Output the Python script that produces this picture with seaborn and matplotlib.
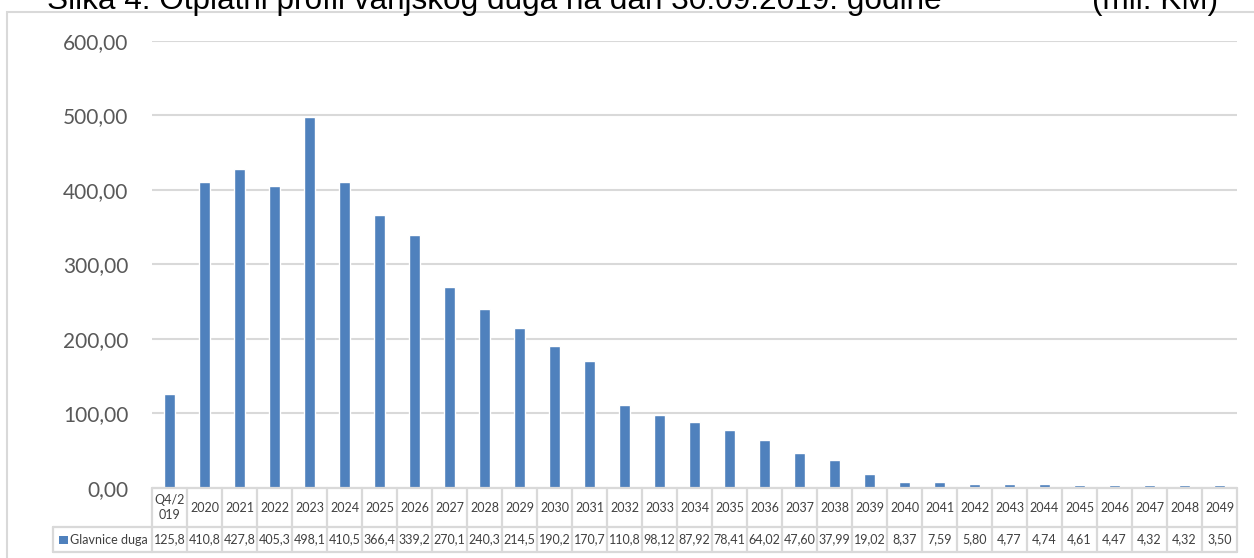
import matplotlib
matplotlib.use("Agg")
import matplotlib.pyplot as plt
import numpy as np
import pandas as pd
import seaborn as sns
from matplotlib import transforms
from matplotlib.lines import Line2D
from matplotlib.patches import Rectangle

# ---------------- data ----------------
categories = ["Q4/2\n019", "2020", "2021", "2022", "2023", "2024", "2025", "2026",
              "2027", "2028", "2029", "2030", "2031", "2032", "2033", "2034",
              "2035", "2036", "2037", "2038", "2039", "2040", "2041", "2042",
              "2043", "2044", "2045", "2046", "2047", "2048", "2049"]
values = [125.8, 410.8, 427.8, 405.3, 498.1, 410.5, 366.4, 339.2, 270.1, 240.3,
          214.5, 190.2, 170.7, 110.8, 98.12, 87.92, 78.41, 64.02, 47.60, 37.99,
          19.02, 8.37, 7.59, 5.80, 4.77, 4.74, 4.61, 4.47, 4.32, 4.32, 3.50]
value_labels = ["125,8", "410,8", "427,8", "405,3", "498,1", "410,5", "366,4", "339,2",
                "270,1", "240,3", "214,5", "190,2", "170,7", "110,8", "98,12", "87,92",
                "78,41", "64,02", "47,60", "37,99", "19,02", "8,37", "7,59", "5,80",
                "4,77", "4,74", "4,61", "4,47", "4,32", "4,32", "3,50"]
series_name = "Glavnice duga"
y_ticks = [0, 100, 200, 300, 400, 500, 600]
y_tick_labels = ["0,00", "100,00", "200,00", "300,00", "400,00", "500,00", "600,00"]
title_text = "Slika 4. Otplatni profil vanjskog duga na dan 30.09.2019. godine"
unit_text = "(mil. KM)"

# ---------------- style ----------------
BAR = "#4F81BD"
GRID = "#D9D9D9"
TXT = "#595959"
TBL_TXT = "#404040"
W, H = 1254, 558

sns.set_theme(style="white")
plt.rcParams["font.family"] = ["Lato", "DejaVu Sans"]

fig = plt.figure(figsize=(W / 100, H / 100), dpi=100)
fig.patch.set_facecolor("white")


def fx(p):
    return p / W


def fy(p):
    return (H - p) / H


left_px, right_px = 152, 1237
top_px, base_px = 40.7, 488
ax = fig.add_axes([fx(left_px), fy(base_px), fx(right_px) - fx(left_px), fy(top_px) - fy(base_px)])

df = pd.DataFrame({"cat": categories, "val": values})
sns.barplot(data=df, x="cat", y="val", order=categories, color=BAR, saturation=1,
            width=0.34, ax=ax, zorder=3)

n = len(categories)
ax.set_xlim(-0.5, n - 0.5)
ax.set_ylim(0, 600)
ax.set_yticks(y_ticks)
ax.set_yticklabels(y_tick_labels, fontsize=15, color=TXT)
ax.tick_params(axis="y", length=0, pad=17)
ax.set_xticks([])
ax.set_xlabel("")
ax.set_ylabel("")
for s in ax.spines.values():
    s.set_visible(False)
ax.yaxis.grid(True, color=GRID, linewidth=1.5)
ax.set_axisbelow(True)
ax.set_facecolor("none")

# ---------------- outer chart border ----------------
fig.add_artist(Rectangle((fx(7), fy(H + 20)), 2, fy(12) - fy(H + 20),
                         transform=fig.transFigure, fill=False, edgecolor=GRID,
                         linewidth=1.5, zorder=0))

# ---------------- title (clipped at top, as in the source) ----------------
fig.text(fx(47), fy(9), title_text, fontsize=22.7, family=["Liberation Sans", "DejaVu Sans"],
         color="black", ha="left", va="baseline")
fig.text(fx(1218), fy(9), unit_text, fontsize=22.7, family=["Liberation Sans", "DejaVu Sans"],
         color="black", ha="right", va="baseline")

# ---------------- data table ----------------
tr = transforms.blended_transform_factory(ax.transData, fig.transFigure)
row1_top, row1_bot, row2_bot = 488, 527, 552
lw = 1.6


def hline(x0, x1, ypx, trans):
    fig.add_artist(Line2D([x0, x1], [fy(ypx), fy(ypx)], transform=trans,
                          color=GRID, linewidth=lw, clip_on=False))


def vline(x, y0px, y1px, trans):
    fig.add_artist(Line2D([x, x], [fy(y0px), fy(y1px)], transform=trans,
                          color=GRID, linewidth=lw, clip_on=False))


hline(-0.5, n - 0.5, row1_top, tr)
hline(-0.5, n - 0.5, row1_bot, tr)
hline(-0.5, n - 0.5, row2_bot, tr)
hline(fx(53), fx(left_px), row1_bot, fig.transFigure)
hline(fx(53), fx(left_px), row2_bot, fig.transFigure)
vline(fx(53), row1_bot, row2_bot, fig.transFigure)
for i in range(n + 1):
    vline(i - 0.5, row1_top, row2_bot, tr)

for i, (c, v) in enumerate(zip(categories, value_labels)):
    fig.text(i, fy((row1_top + row1_bot) / 2), c, transform=tr, ha="center", va="center",
             fontsize=9.0, color=TBL_TXT, linespacing=1.3)
    fig.text(i, fy((row1_bot + row2_bot) / 2), v, transform=tr, ha="center", va="center",
             fontsize=9.0, color=TBL_TXT)

fig.add_artist(Rectangle((fx(59), fy(544)), fx(68) - fx(59), fy(536) - fy(544),
                         transform=fig.transFigure, facecolor=BAR, edgecolor="none"))
fig.text(fx(69.5), fy((row1_bot + row2_bot) / 2), series_name, ha="left", va="center",
         fontsize=9.0, color=TBL_TXT)

fig.savefig("out.png", dpi=100, facecolor="white")
